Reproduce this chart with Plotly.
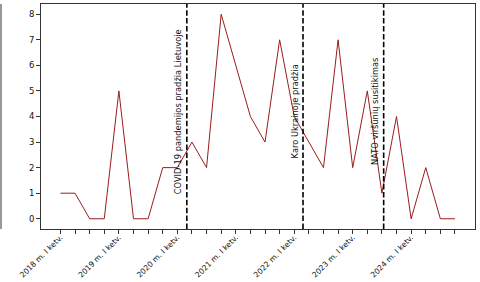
import plotly.graph_objects as go

years = [2018, 2019, 2020, 2021, 2022, 2023, 2024]
values = [1, 1, 0, 0,
          5, 0, 0, 2,
          2, 3, 2, 8,
          6, 4, 3, 7,
          4, 3, 2, 7,
          2, 5, 1, 4,
          0, 2, 0, 0]
tick_labels = [f"{y} m. I ketv." for y in years]
event_positions = [8.65, 16.6, 22.12]
event_labels = ["COVID-19 pandemijos pradžia Lietuvoje",
                "Karo Ukrainoje pradžia",
                "NATO viršūnių susitikimas"]
label_y = 4.2

x_idx = list(range(len(values)))
tickvals = x_idx
ticktext = []
for i in x_idx:
    ticktext.append(tick_labels[i // 4] if i % 4 == 0 else "")

fig = go.Figure()
fig.add_trace(go.Scatter(x=x_idx, y=values, mode="lines",
                         line=dict(color="#9b1c1c", width=1), showlegend=False,
                         hoverinfo="skip"))

for pos, lab in zip(event_positions, event_labels):
    fig.add_shape(type="line", xref="x", yref="paper", x0=pos, x1=pos, y0=0, y1=1,
                  line=dict(color="black", width=1.6, dash="5.5px,2.4px"))
    fig.add_annotation(x=pos, y=label_y, xref="x", yref="y", text=lab,
                       textangle=-90, showarrow=False, xanchor="right", yanchor="middle",
                       xshift=-1, font=dict(family="DejaVu Sans", size=8.3, color="#111"))

# fragment of neighbouring axes at far left
fig.add_shape(type="line", xref="paper", yref="paper", x0=-40/434, x1=-40/434, y0=0, y1=1,
              line=dict(color="#333", width=1))

fig.update_layout(
    width=480, height=282,
    margin=dict(l=41, r=5, t=4, b=53, autoexpand=False),
    plot_bgcolor="white", paper_bgcolor="white",
    font=dict(family="DejaVu Sans", size=8, color="#111"),
)
fig.update_xaxes(range=[-1.33, 28.37], tickmode="array", tickvals=tickvals, ticktext=ticktext,
                 tickangle=-45, ticks="outside", ticklen=4, tickcolor="#333",
                 showgrid=False, zeroline=False, showline=True, linecolor="#333",
                 linewidth=1, mirror=True, tickfont=dict(size=7.6), automargin=False,
                 ticklabelstandoff=-4)
fig.update_yaxes(range=[-0.4, 8.4], tickmode="array", tickvals=list(range(0, 9)),
                 ticks="outside", ticklen=4, tickcolor="#333",
                 showgrid=False, zeroline=False, showline=True, linecolor="#333",
                 linewidth=1, mirror=True, tickfont=dict(size=8.5), automargin=False)

fig.write_html("out.html")
